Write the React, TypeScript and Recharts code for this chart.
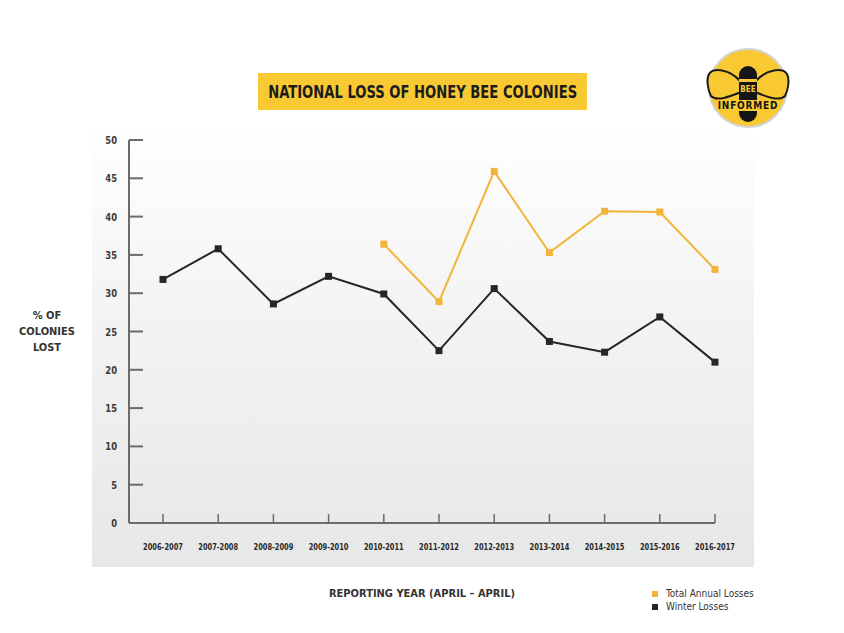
import React from 'react';
import { LineChart, Line, XAxis, YAxis } from 'recharts';

const years = [
  '2006-2007', '2007-2008', '2008-2009', '2009-2010', '2010-2011', '2011-2012',
  '2012-2013', '2013-2014', '2014-2015', '2015-2016', '2016-2017',
];
const winterLosses = [31.8, 35.8, 28.6, 32.2, 29.9, 22.5, 30.6, 23.7, 22.3, 26.9, 21.0];
const totalAnnualLosses = [null, null, null, null, 36.4, 28.9, 45.9, 35.3, 40.7, 40.6, 33.1];
const yTicks = [0, 5, 10, 15, 20, 25, 30, 35, 40, 45, 50];
const legendItems = ['Total Annual Losses', 'Winter Losses'];

const YELLOW = '#F2B53A';
const DARK = '#262626';
const AXIS = '#6b6b6b';
const FONT = "'DejaVu Sans Condensed', Roboto, sans-serif";

const data = years.map((year, i) => ({
  year,
  winter: winterLosses[i],
  total: totalAnnualLosses[i],
}));

const YTick = (props: any) => {
  const { x, y, payload } = props;
  return (
    <g>
      <line x1={x + 12} x2={x + 26} y1={y} y2={y} stroke={AXIS} strokeWidth={2} />
      <text
        transform={`translate(${x},${y}) scale(0.85,1)`}
        dy={4}
        textAnchor="end"
        fontFamily={FONT}
        fontWeight="bold"
        fontSize={11}
        fill="#3a3a3a"
      >
        {payload.value}
      </text>
    </g>
  );
};

const XTick = (props: any) => {
  const { x, y, payload } = props;
  return (
    <g>
      <line x1={x} x2={x} y1={y - 23} y2={y - 32} stroke={AXIS} strokeWidth={1.5} />
      <text
        transform={`translate(${x},${y}) scale(0.78,1)`}
        dy={4}
        textAnchor="middle"
        fontFamily={FONT}
        fontWeight="bold"
        fontSize={9.5}
        fill="#2a2a2a"
      >
        {payload.value}
      </text>
    </g>
  );
};

const squareDot = (color: string) => (props: any) => {
  const { cx, cy, index } = props;
  if (cx == null || cy == null) return <g key={`d-${index}`} />;
  return <rect key={`d-${index}`} x={cx - 3.5} y={cy - 3.5} width={7} height={7} fill={color} />;
};

const Logo = () => (
  <svg width={110} height={100} style={{ position: 'absolute', left: 695, top: 38 }}>
    <circle cx={53} cy={50} r={39} fill="#F9C933" stroke="#d4d4d4" strokeWidth={2} />
    {/* wings */}
    <path d="M46 44 C34 30 18 30 14 36 C11 42 13 52 16 58 C22 64 36 58 46 54 Z" fill="#F9C933" stroke="#1a1a1a" strokeWidth={2} />
    <path d="M60 44 C72 30 88 30 92 36 C95 42 93 52 90 58 C84 64 70 58 60 54 Z" fill="#F9C933" stroke="#1a1a1a" strokeWidth={2} />
    {/* body */}
    <rect x={44} y={28} width={18} height={56} rx={9} fill="#151515" />
    <rect x={44} y={41} width={18} height={3} fill="#F9C933" />
    <text x={53} y={54} textAnchor="middle" fontFamily={FONT} fontWeight="bold" fontSize={8} fill="#F9C933">BEE</text>
    <rect x={24} y={62} width={58} height={11} fill="#F9C933" />
    <text x={53} y={71} textAnchor="middle" fontFamily={FONT} fontWeight="bold" fontSize={10} fill="#151515" letterSpacing={0.8}>INFORMED</text>
  </svg>
);

export default function App() {
  return (
    <div style={{ position: 'absolute', left: 0, top: 0, width: 844, height: 633, background: '#fff', overflow: 'hidden' }}>
      {/* Chart panel */}
      <div
        style={{
          position: 'absolute',
          left: 92,
          top: 122,
          width: 662,
          height: 445,
          background: 'linear-gradient(to bottom, #ffffff 0%, #f3f3f3 45%, #e6e7e7 100%)',
        }}
      />

      {/* Title */}
      <div
        style={{
          position: 'absolute',
          left: 258,
          top: 73,
          width: 329,
          height: 37,
          background: '#F9C934',
          display: 'flex',
          alignItems: 'center',
          justifyContent: 'center',
          fontFamily: FONT,
          fontWeight: 'bold',
          fontSize: 17,
          color: '#1c1c1c',
          whiteSpace: 'nowrap',
        }}
      >
        <span style={{ display: 'inline-block', transform: 'scaleX(0.86)' }}>NATIONAL LOSS OF HONEY BEE COLONIES</span>
      </div>

      <Logo />

      {/* Y axis label */}
      <div
        style={{
          position: 'absolute',
          left: 7,
          top: 308,
          width: 80,
          textAlign: 'center',
          fontFamily: FONT,
          fontWeight: 'bold',
          fontSize: 11,
          lineHeight: '16px',
          color: '#333',
        }}
      >
        % OF
        <br />
        COLONIES
        <br />
        LOST
      </div>

      {/* X axis label */}
      <div
        style={{
          position: 'absolute',
          left: 272,
          top: 587,
          width: 300,
          textAlign: 'center',
          fontFamily: FONT,
          fontWeight: 'bold',
          fontSize: 11,
          color: '#333',
        }}
      >
        REPORTING YEAR (APRIL – APRIL)
      </div>

      {/* Legend */}
      <div style={{ position: 'absolute', left: 652, top: 587, fontFamily: FONT, fontSize: 10, color: '#333', lineHeight: '13px' }}>
        {legendItems.map((name, i) => (
          <div key={name} style={{ display: 'flex', alignItems: 'center', gap: 8 }}>
            <span style={{ width: 6, height: 6, background: i === 0 ? YELLOW : DARK, display: 'inline-block' }} />
            <span>{name}</span>
          </div>
        ))}
      </div>

      <div style={{ position: 'absolute', left: 0, top: 0 }}>
        <LineChart width={844} height={633} data={data} margin={{ top: 140, right: 129, bottom: 80, left: 89 }}>
          <XAxis
            dataKey="year"
            interval={0}
            padding={{ left: 34, right: 0 }}
            height={30}
            tickSize={0}
            tickMargin={23}
            tickLine={false}
            axisLine={{ stroke: AXIS, strokeWidth: 2 }}
            tick={<XTick />}
          />
          <YAxis
            domain={[0, 50]}
            ticks={yTicks}
            width={40}
            tickSize={0}
            tickMargin={12}
            tickLine={false}
            axisLine={{ stroke: AXIS, strokeWidth: 2 }}
            tick={<YTick />}
          />
          <Line
            dataKey="total"
            name="Total Annual Losses"
            stroke={YELLOW}
            strokeWidth={2}
            dot={squareDot(YELLOW)}
            isAnimationActive={false}
          />
          <Line
            dataKey="winter"
            name="Winter Losses"
            stroke={DARK}
            strokeWidth={2}
            dot={squareDot(DARK)}
            isAnimationActive={false}
          />
        </LineChart>
      </div>
    </div>
  );
}
